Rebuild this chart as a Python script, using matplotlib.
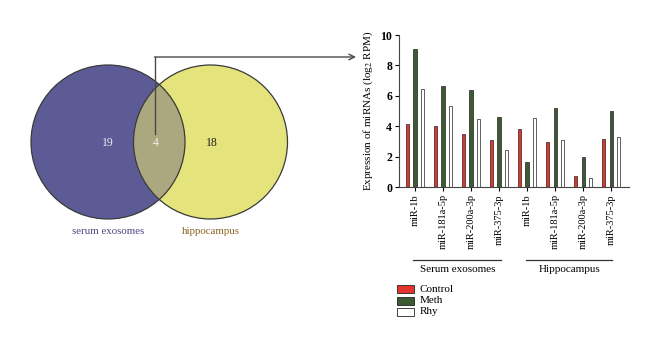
import numpy as np
import matplotlib.pyplot as plt
from matplotlib.patches import Circle, Rectangle

plt.rcParams['font.family'] = ['Liberation Serif', 'DejaVu Serif']
plt.rcParams['mathtext.fontset'] = 'stix'

# venn data
venn_labels = ['serum exosomes', 'hippocampus']
venn_counts = [19, 4, 18]

# bar data
mirnas = ['miR-1b', 'miR-181a-5p', 'miR-200a-3p', 'miR-375-3p',
          'miR-1b', 'miR-181a-5p', 'miR-200a-3p', 'miR-375-3p']
groups = ['Serum exosomes', 'Hippocampus']
control = [4.16, 4.05, 3.52, 3.11, 3.83, 2.95, 0.72, 3.15]
meth = [9.06, 6.67, 6.39, 4.62, 1.64, 5.19, 2.01, 5.01]
rhy = [6.43, 5.34, 4.46, 2.45, 4.55, 3.09, 0.61, 3.33]
series = ['Control', 'Meth', 'Rhy']
colors = ['#e2342c', '#3d5a32', 'white']

fig = plt.figure(figsize=(6.6, 3.48), dpi=100)

# background axes in pixel coords for venn + arrow
bg = fig.add_axes([0, 0, 1, 1])
bg.set_xlim(0, 660)
bg.set_ylim(348, 0)
bg.axis('off')

edge = '#3a3a3a'
left = Circle((108, 142), 77, facecolor='#5c5b96', edgecolor='none', zorder=1)
right = Circle((210.5, 142), 77, facecolor='#e4e37c', edgecolor='none', zorder=1)
bg.add_patch(left)
bg.add_patch(right)
ov = Circle((108, 142), 77, facecolor='#aba77f', edgecolor='none', zorder=2)
bg.add_patch(ov)
ov.set_clip_path(right)
bg.add_patch(Circle((108, 142), 77, fill=False, edgecolor=edge, lw=0.9, zorder=3))
bg.add_patch(Circle((210.5, 142), 77, fill=False, edgecolor=edge, lw=0.9, zorder=3))

bg.text(108, 143, str(venn_counts[0]), color='#e8e8f0', fontsize=8.5, ha='center', va='center', zorder=4)
bg.text(156, 143, str(venn_counts[1]), color='#f0f0e8', fontsize=8.5, ha='center', va='center', zorder=4)
bg.text(212, 143, str(venn_counts[2]), color='#222222', fontsize=8.5, ha='center', va='center', zorder=4)
bg.text(108, 231, venn_labels[0], color='#4a4880', fontsize=7.8, ha='center', va='center')
bg.text(211, 231, venn_labels[1], color='#8a6420', fontsize=7.8, ha='center', va='center')

bg.plot([155, 155], [134, 57], color='#4a4a4a', lw=1.0, zorder=5)
bg.annotate('', xy=(356, 57), xytext=(154.5, 57),
            arrowprops=dict(arrowstyle='->', color='#4a4a4a', lw=1.0,
                            shrinkA=0, shrinkB=0), zorder=5)

# bar chart
ax = fig.add_axes([399/660, (348-187.3)/348, 230/660, (187.3-35)/348])
x = np.arange(len(mirnas))
off = 0.275
w = 0.11
for i, (vals, c) in enumerate(zip([control, meth, rhy], colors)):
    ax.bar(x + (i - 1) * off, vals, width=w, color=c, edgecolor='#222222',
           linewidth=0.5, label=series[i])

ax.set_xlim(-0.571, 7.64)
ax.set_ylim(0, 10)
ax.set_yticks([0, 2, 4, 6, 8, 10])
ax.set_xticks(x)
ax.set_xticklabels(mirnas, rotation=90, fontsize=7.5)
for t in ax.get_yticklabels():
    t.set_fontsize(8.5)
    t.set_fontweight('bold')
ax.tick_params(axis='both', length=3, width=0.8, pad=2)
ax.spines['top'].set_visible(False)
ax.spines['right'].set_visible(False)
ax.spines['left'].set_color('#444444')
ax.spines['bottom'].set_color('#444444')
ax.set_ylabel('Expression of miRNAs (log$_2$ RPM)', fontsize=8, labelpad=4)

# group brackets
bg.plot([413, 501], [260, 260], color='#333333', lw=0.9)
bg.plot([526, 612], [260, 260], color='#333333', lw=0.9)
bg.text(458, 269, groups[0], fontsize=8, ha='center', va='center')
bg.text(570, 269, groups[1], fontsize=8, ha='center', va='center')

# legend
for i, lab in enumerate(series):
    yy = 289 + i * 11.5
    bg.add_patch(Rectangle((397, yy - 4), 17, 8, facecolor=colors[i],
                           edgecolor='#222222', lw=0.6))
    bg.text(420, yy, lab, fontsize=8, ha='left', va='center')

fig.savefig('out.png', dpi=100)
